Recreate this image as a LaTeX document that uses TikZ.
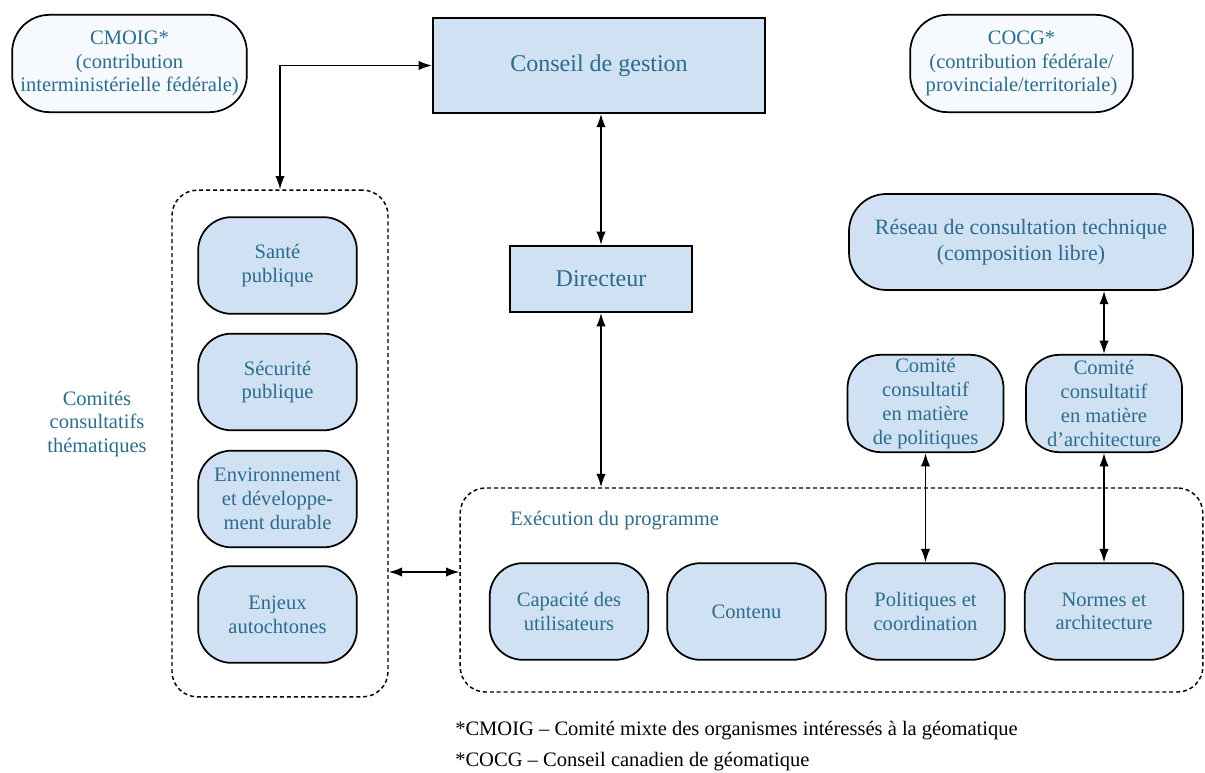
\documentclass[tikz,border=0pt]{standalone}
\usepackage{fontspec}
\setmainfont{Liberation Serif}
\usetikzlibrary{arrows.meta}
\definecolor{boxfill}{HTML}{CFE1F3}
\definecolor{pale}{HTML}{F6FAFE}
\definecolor{ink}{HTML}{2B6C8C}

\begin{document}
\begin{tikzpicture}[x=0.75pt,y=-0.75pt,
  >={Latex[length=10pt,width=7pt]},
  txt/.style={font=\fontsize{15.4}{17.8}\selectfont, text=ink, align=center},
  base/.style={txt, draw=black, line width=1.3pt, fill=boxfill, inner sep=0pt},
  pill/.style={base, rounded corners=25pt, minimum width=119pt, minimum height=72.5pt},
  topbox/.style={base, fill=pale, rounded corners=28pt, minimum height=73pt},
  plainbox/.style={base, line width=1.5pt, font=\fontsize{18}{21}\selectfont},
  group/.style={draw=black, line width=1.1pt, dash pattern=on 3pt off 2.2pt, rounded corners=19pt, inner sep=0pt},
  link/.style={draw=black, line width=1.2pt, <->},
  note/.style={font=\fontsize{15.4}{17.8}\selectfont, text=black, anchor=west, inner sep=0pt}
]
\useasboundingbox (0,0) rectangle (1205,773);

% top row
\node[topbox, minimum width=176pt] (cmoig) at (129.5,63.5)
  {CMOIG*\\(contribution\\interministérielle fédérale)};
\node[plainbox, minimum width=249pt, minimum height=71pt] (conseil) at (599,65.5)
  {Conseil de gestion};
\node[topbox, minimum width=167pt] (cocg) at (1021.5,63.5)
  {COCG*\\(contribution fédérale/\\provinciale/territoriale)};

% thematic committees
\node[group, minimum width=162pt, minimum height=380pt] (themes) at (280,443.5) {};
\node[txt] (themelabel) at (97,424) {Comités\\consultatifs\\thématiques};
\node[pill] (sante) at (277.5,265.5) {Santé\\publique};
\node[pill] (securite) at (277.5,382) {Sécurité\\publique};
\node[pill] (environ) at (277.5,499) {Environnement\\et développe-\\ment durable};
\node[pill] (enjeux) at (277.5,614.5) {Enjeux\\autochtones};

% director
\node[plainbox, minimum width=136.5pt, minimum height=49.5pt] (directeur) at (601,279)
  {Directeur};

% program delivery
\node[group, minimum width=557pt, minimum height=153pt] (exec) at (831.5,590) {};
\node[txt, anchor=west, inner sep=0pt] (execlabel) at (510,521) {Exécution du programme};
\node[pill] (capacite) at (569,611.5) {Capacité des\\utilisateurs};
\node[pill] (contenu) at (746.5,611.5) {Contenu};
\node[pill] (politiques) at (925.5,611.5) {Politiques et\\coordination};
\node[pill] (normes) at (1104,611.5) {Normes et\\architecture};

% technical network and advisory committees
\node[base, rounded corners=28pt, minimum width=258pt, minimum height=72pt,
  font=\fontsize{16.4}{19.5}\selectfont] (reseau) at (1021,242)
  {Réseau de consultation technique\\(composition libre)};
\node[pill, minimum width=117pt, minimum height=73pt] (compol) at (925.5,403.5)
  {Comité\\consultatif\\en matière\\de politiques};
\node[pill, minimum width=117pt, minimum height=73pt] (comarch) at (1104,403.5)
  {Comité\\consultatif\\en matière\\d’architecture};

% connectors
\coordinate (lk) at (0,572);
\draw[link] (themes.north) |- (conseil.west);
\draw[link] (conseil.south -| directeur.north) -- (directeur.north);
\draw[link] (directeur.south) -- (exec.north -| directeur.south);
\draw[link] (themes.east |- lk) -- (exec.west |- lk);
\draw[link] (reseau.south -| comarch.north) -- (comarch.north);
\draw[link] (compol.south) -- (politiques.north);
\draw[link] (comarch.south) -- (normes.north);

% footnotes
\node[note] (fn1) at (455,731) {*CMOIG – Comité mixte des organismes intéressés à la géomatique};
\node[note] (fn2) at (455,762) {*COCG – Conseil canadien de géomatique};
\end{tikzpicture}
\end{document}
